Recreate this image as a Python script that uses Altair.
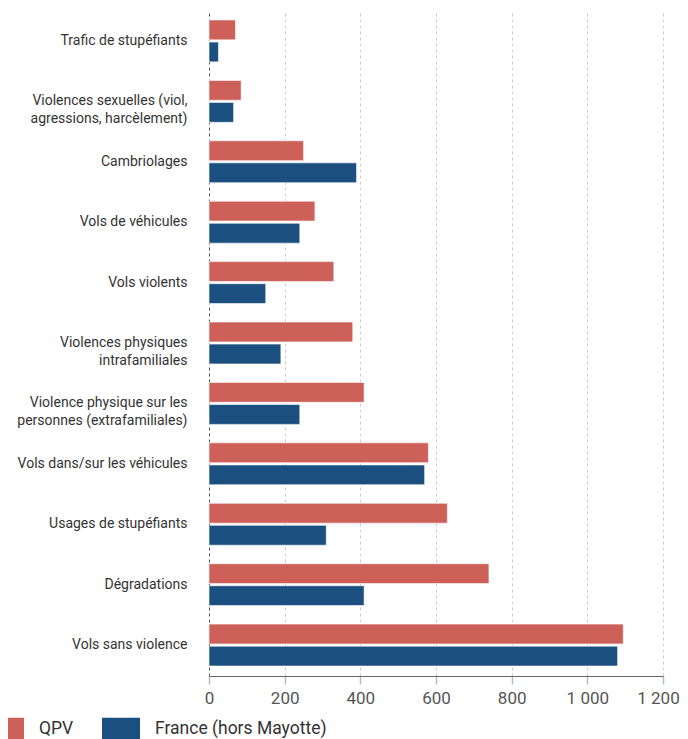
import altair as alt
import pandas as pd

categories = [
    "Trafic de stupéfiants",
    "Violences sexuelles (viol,\nagressions, harcèlement)",
    "Cambriolages",
    "Vols de véhicules",
    "Vols violents",
    "Violences physiques\nintrafamiliales",
    "Violence physique sur les\npersonnes (extrafamiliales)",
    "Vols dans/sur les véhicules",
    "Usages de stupéfiants",
    "Dégradations",
    "Vols sans violence",
]
series = ["QPV", "France (hors Mayotte)"]
qpv = [70, 85, 250, 280, 330, 380, 410, 580, 630, 740, 1095]
france = [25, 65, 390, 240, 150, 190, 240, 570, 310, 410, 1080]
colors = ["#CD6159", "#1B4F80"]
x_ticks = [0, 200, 400, 600, 800, 1000, 1200]

rows = []
for c, a, b in zip(categories, qpv, france):
    rows.append({"cat": c, "serie": series[0], "val": a})
    rows.append({"cat": c, "serie": series[1], "val": b})
df = pd.DataFrame(rows)

FONT = "Roboto"

chart = alt.Chart(df).mark_bar(
    stroke="white", strokeWidth=1, strokeOpacity=0.6
).encode(
    y=alt.Y("cat:N", sort=categories,
            scale=alt.Scale(paddingInner=0.306, paddingOuter=0.165),
            axis=alt.Axis(title=None, labelExpr="split(datum.label, '\\n')",
                          labelFont=FONT, labelFontSize=14, labelColor="#333333",
                          labelLineHeight=18, labelPadding=22, ticks=False,
                          domain=False, labelLimit=300)),
    yOffset=alt.YOffset("serie:N", sort=series,
                        scale=alt.Scale(paddingInner=0.1)),
    x=alt.X("val:Q", scale=alt.Scale(domain=[0, 1200], nice=False),
            axis=alt.Axis(title=None, values=x_ticks,
                          labelExpr="replace(format(datum.value, ',d'), ',', ' ')",
                          labelFont=FONT, labelFontSize=17, labelColor="#555555",
                          labelPadding=6, labelFlush=False,
                          labelOffset={"condition": {"test": "datum.value === 1200", "value": -5},
                                       "value": 0},
                          grid=True, gridDash=[3, 3],
                          gridColor={"condition": {"test": "datum.value === 0", "value": "#555555"},
                                     "value": "#cccccc"},
                          domainColor="#666666", tickColor="#aabbd4", tickSize=8,
                          tickWidth=1.5)),
    color=alt.Color("serie:N", sort=series,
                    scale=alt.Scale(domain=series, range=colors),
                    legend=alt.Legend(title=None, orient="none", legendX=-223, legendY=700,
                                      direction="horizontal",
                                      symbolType="M-1,-0.605H1V0.605H-1Z",
                                      symbolSize=1444, symbolStrokeWidth=0,
                                      labelFont=FONT, labelFontSize=17.5, labelColor="#333333",
                                      labelOffset=15, columnPadding=28, labelLimit=400)),
).properties(
    width=454, height=666,
    padding={"left": 201, "top": 2, "right": 17, "bottom": 63},
    autosize=alt.AutoSizeParams(type="none"),
).configure_view(stroke=None)

chart.save("out.html", embed_options={"renderer": "svg", "actions": False})
